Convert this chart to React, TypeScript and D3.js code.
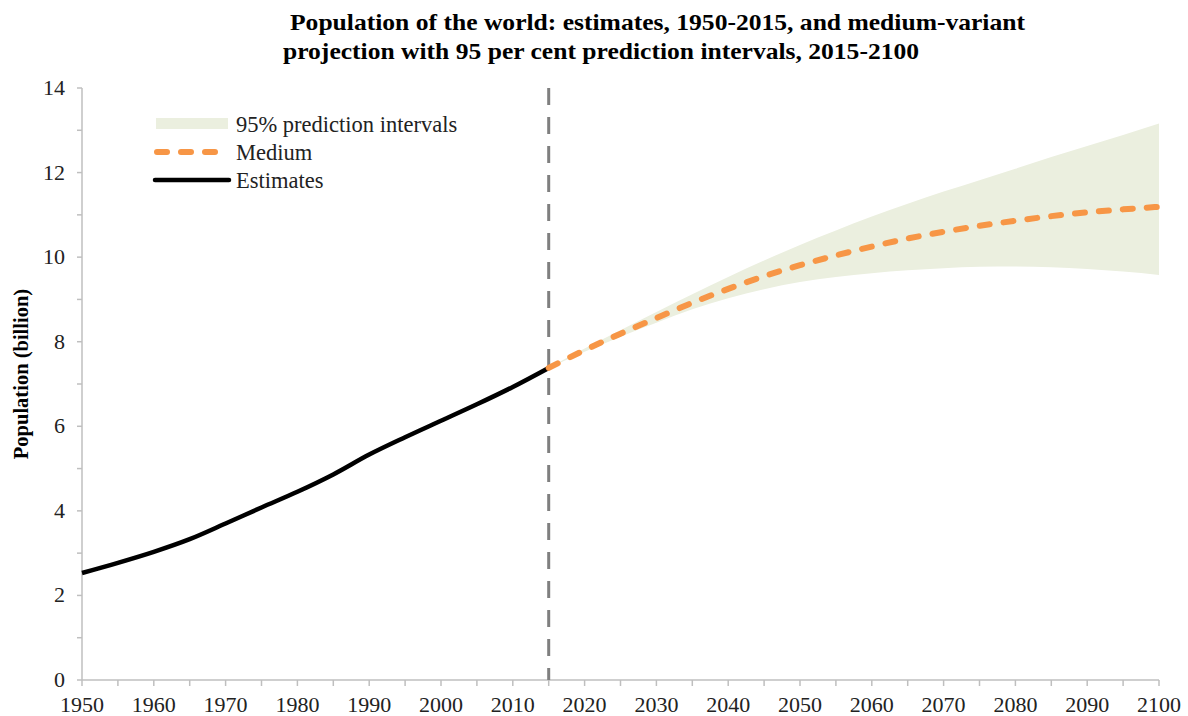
import React from "react";
import * as d3 from "d3";

const estYears = [1950, 1955, 1960, 1965, 1970, 1975, 1980, 1985, 1990, 1995, 2000, 2005, 2010, 2015];
const estimates = [2.53, 2.77, 3.03, 3.33, 3.70, 4.08, 4.45, 4.86, 5.33, 5.74, 6.13, 6.52, 6.93, 7.38];

const projYears = [2015, 2020, 2025, 2030, 2035, 2040, 2045, 2050, 2055, 2060, 2065, 2070, 2075, 2080, 2085, 2090, 2095, 2100];
const medium = [7.38, 7.8, 8.19, 8.56, 8.92, 9.25, 9.55, 9.81, 10.04, 10.25, 10.44, 10.6, 10.74, 10.86, 10.97, 11.06, 11.13, 11.19];
const upper95 = [7.38, 7.84, 8.27, 8.7, 9.12, 9.53, 9.92, 10.29, 10.63, 10.96, 11.26, 11.55, 11.82, 12.09, 12.37, 12.63, 12.89, 13.16];
const lower95 = [7.38, 7.76, 8.12, 8.45, 8.77, 9.03, 9.24, 9.41, 9.53, 9.62, 9.69, 9.74, 9.77, 9.78, 9.76, 9.72, 9.66, 9.58];

const xTickLabels = [1950, 1960, 1970, 1980, 1990, 2000, 2010, 2020, 2030, 2040, 2050, 2060, 2070, 2080, 2090, 2100];
const yTickLabels = [0, 2, 4, 6, 8, 10, 12, 14];

const titleLines = [
  "Population of the world: estimates, 1950-2015, and medium-variant",
  "projection with 95 per cent prediction intervals, 2015-2100",
];
const legendLabels = ["95% prediction intervals", "Medium", "Estimates"];

export default function App() {
  const W = 1188, H = 716;
  const x = d3.scaleLinear().domain([1950, 2100]).range([82, 1159]);
  const y = d3.scaleLinear().domain([0, 14]).range([680, 88]);
  const axisColor = "#bfbfbf";
  const font = "'Liberation Serif', 'Times New Roman', serif";

  const estLine = d3.line<number>().x((_, i) => x(estYears[i])).y((d) => y(d)).curve(d3.curveMonotoneX);
  const medLine = d3.line<number>().x((_, i) => x(projYears[i])).y((d) => y(d)).curve(d3.curveMonotoneX);
  const band = d3
    .area<number>()
    .x((_, i) => x(projYears[i]))
    .y0((_, i) => y(lower95[i]))
    .y1((d) => y(d))
    .curve(d3.curveMonotoneX);

  const minorX = d3.range(1950, 2101, 5);
  const minorY = d3.range(0, 15, 1);

  return (
    <svg width={W} height={H} style={{ position: "absolute", left: 0, top: 0, background: "#fff" }}>
      <g fontFamily={font} fontWeight="bold" fontSize={24} fill="#000">
        <text x={290} y={30} textLength={735} lengthAdjust="spacingAndGlyphs">{titleLines[0]}</text>
        <text x={283} y={59} textLength={636} lengthAdjust="spacingAndGlyphs">{titleLines[1]}</text>
      </g>

      <path d={band(upper95) || ""} fill="#ebefdf" />

      {/* axes */}
      <line x1={82} x2={82} y1={88} y2={680} stroke={axisColor} strokeWidth={1.5} />
      <line x1={82} x2={1159} y1={680} y2={680} stroke={axisColor} strokeWidth={1.5} />
      {minorY.map((v) => (
        <line key={"yt" + v} x1={77} x2={82} y1={y(v)} y2={y(v)} stroke={axisColor} strokeWidth={1.5} />
      ))}
      {minorX.map((v) => (
        <line key={"xt" + v} x1={x(v)} x2={x(v)} y1={680} y2={686} stroke={axisColor} strokeWidth={1.5} />
      ))}
      <g fontFamily={font} fontSize={22} fill="#222">
        {yTickLabels.map((v) => (
          <text key={"yl" + v} x={65} y={y(v) + 7} textAnchor="end">{v}</text>
        ))}
        {xTickLabels.map((v) => (
          <text key={"xl" + v} x={x(v)} y={712} textAnchor="middle">{v}</text>
        ))}
      </g>
      <text
        transform={`translate(28,374) rotate(-90)`}
        textAnchor="middle"
        fontFamily={font}
        fontWeight="bold"
        fontSize={20.5}
        fill="#000"
      >
        Population (billion)
      </text>

      {/* divider */}
      <line x1={x(2015)} x2={x(2015)} y1={88} y2={680} stroke="#7f7f7f" strokeWidth={3} strokeDasharray="17 12" />

      <path d={estLine(estimates) || ""} fill="none" stroke="#000" strokeWidth={4.5} strokeLinejoin="round" />
      <path
        d={medLine(medium) || ""}
        fill="none"
        stroke="#f79646"
        strokeWidth={6}
        strokeDasharray="10 14"
        strokeLinecap="round"
      />

      {/* legend */}
      <rect x={156} y={118} width={72} height={11} fill="#ebefdf" />
      <line x1={157} x2={224} y1={152} y2={152} stroke="#f79646" strokeWidth={6} strokeDasharray="10 14" strokeLinecap="round" />
      <line x1={155} x2={229} y1={180} y2={180} stroke="#000" strokeWidth={4.5} strokeLinecap="round" />
      <g fontFamily={font} fontSize={22.5} fill="#222">
        <text x={236} y={132}>{legendLabels[0]}</text>
        <text x={236} y={160}>{legendLabels[1]}</text>
        <text x={236} y={188}>{legendLabels[2]}</text>
      </g>
    </svg>
  );
}
